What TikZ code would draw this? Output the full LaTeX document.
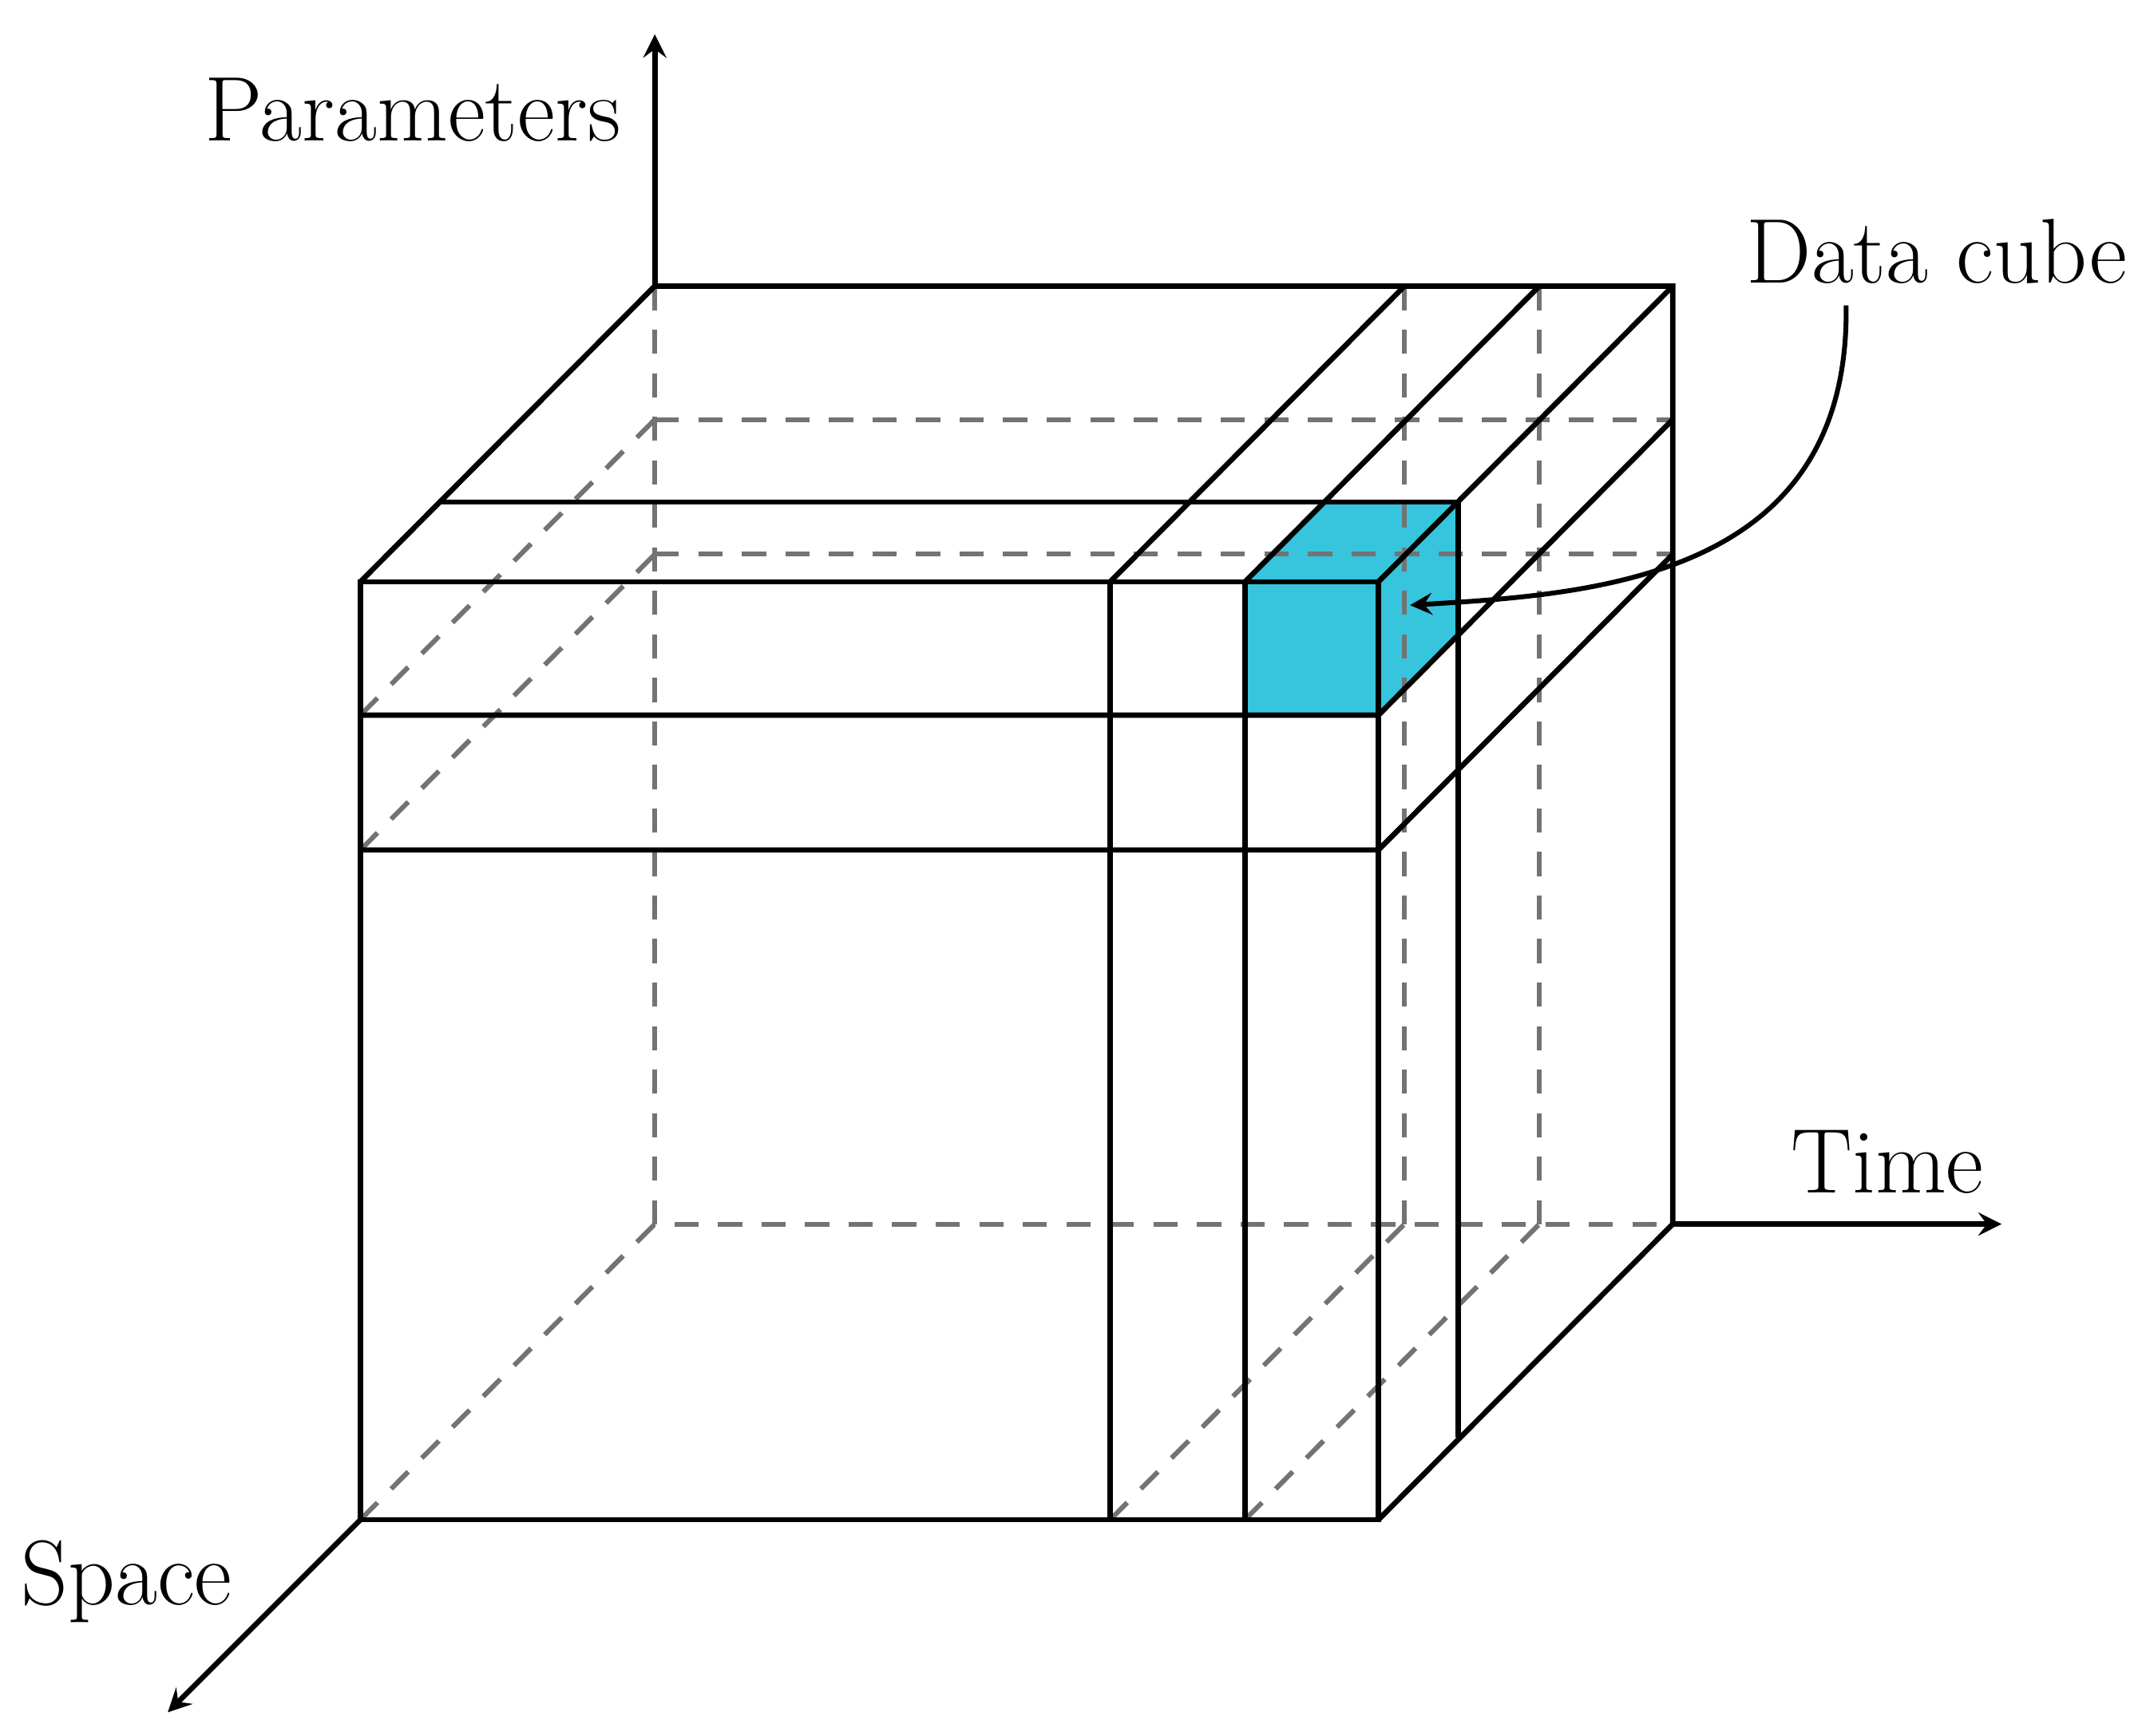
\documentclass[tikz,border=0pt]{standalone}
\usepackage{tikz}
\usetikzlibrary{positioning}
\definecolor{cubecyan}{HTML}{36C5DC}
\tikzset{
  edge/.style={black, line width=1.1pt},
  hidden/.style={gray!110, dashed, line width=1pt, dash pattern=on 5pt off 4pt},
  axis/.style={black, line width=1.1pt, -stealth},
  lbl/.style={font=\fontsize{19}{23}\selectfont, inner sep=0pt}
}
\begin{document}
\begin{tikzpicture}[x=0.01cm, y=-0.01cm]
\useasboundingbox (0,0) rectangle (1560,1262);
% corners
\coordinate (ftl) at (262,423);
\coordinate (fbl) at (262,1105);
\coordinate (fbr) at (1002,1105);
\coordinate (ftr) at (1002,423);
\coordinate (btl) at (476,208);
\coordinate (bbl) at (476,890);
\coordinate (bbr) at (1216,890);
\coordinate (btr) at (1216,208);
% cyan cube
\fill [cubecyan] (905,423) -- (963,365) -- (1060,365) -- (1060,462) -- (1002,520) -- (905,520) -- cycle;
% hidden lines
\draw [hidden] (btl) -- (bbl) -- (bbr);
\draw [hidden] (fbl) -- (bbl);
\draw [hidden] (476,305) -- (1216,305);
\draw [hidden] (476,403) -- (1216,403);
\draw [hidden] (1021,208) -- (1021,890);
\draw [hidden] (1119,208) -- (1119,890);
\draw [hidden] (262,520) -- (476,305);
\draw [hidden] (262,618) -- (476,403);
\draw [hidden] (807,1105) -- (1021,890);
\draw [hidden] (905,1105) -- (1119,890);
% visible edges
\draw [edge] (ftl) -- (fbl) -- (fbr) -- (ftr) -- cycle;
\draw [edge] (ftl) -- (btl) -- (btr) -- (bbr) -- (fbr);
\draw [edge] (ftr) -- (btr);
\draw [edge] (262,520) -- (1002,520) -- (1216,305);
\draw [edge] (262,618) -- (1002,618) -- (1216,403);
\draw [edge] (807,423) -- (807,1105);
\draw [edge] (905,423) -- (905,1105);
\draw [edge] (807,423) -- (1021,208);
\draw [edge] (905,423) -- (1119,208);
\draw [edge] (320,365) -- (1060,365) -- (1060,1045);
% axes
\coordinate (ptop) at (476,25);
\coordinate (tend) at (1455,890);
\coordinate (send) at (122,1245);
\draw [axis] (btl) -- (ptop);
\draw [axis] (bbr) -- (tend);
\draw [axis] (fbl) -- (send);
\node [lbl] (params) at (300,80) {Parameters};
\node [lbl] (time) at (1372,845) {Time};
\node [lbl] (space) at (92,1150) {Space};
\node [lbl] (datacube) at (1408,183) {Data cube};
\coordinate (pick) at (1025,440);
\draw [axis, line width=1pt] (1342,222) .. controls (1345,420) and (1160,432) .. (pick);
\end{tikzpicture}
\end{document}
